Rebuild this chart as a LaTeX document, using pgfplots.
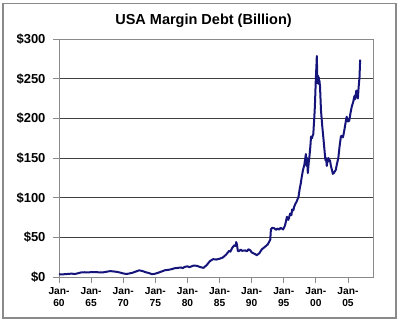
\documentclass[border=0pt]{standalone}
\usepackage{pgfplots}
\pgfplotsset{compat=1.18}
\usepackage{fontspec}
\setmainfont{Liberation Sans}
\definecolor{navyline}{HTML}{14147A}
\definecolor{framegray}{HTML}{8A8A8A}
\begin{document}
\begin{tikzpicture}[x=1pt,y=1pt]
\useasboundingbox (0,0) rectangle (400,322);
\draw[framegray, line width=1.4pt] (3,4) rectangle (396,318.5);
\node[font=\bfseries\fontsize{14.5}{16}\selectfont] at (203.5,301) {USA Margin Debt (Billion)};
\begin{axis}[
  at={(59pt,45pt)}, anchor=south west,
  scale only axis, width=314pt, height=238pt,
  xmin=1960, xmax=2008.9, ymin=0, ymax=300,
  /pgf/number format/assume math mode=true,
  axis line style={draw=framegray, line width=0.8pt},
  ytick={0,50,...,300},
  yticklabel={\$\pgfmathprintnumber{\tick}},
  yticklabel style={font=\bfseries\fontsize{13}{14}\selectfont, xshift=-4pt},
  xtick={1960,1965,...,2005},
  xticklabels={Jan-\\60,Jan-\\65,Jan-\\70,Jan-\\75,Jan-\\80,Jan-\\85,Jan-\\90,Jan-\\95,Jan-\\00,Jan-\\05},
  xticklabel style={font=\bfseries\fontsize{10.2}{11.6}\selectfont, align=center, yshift=-1pt},
  tick align=outside, major tick length=6pt,
  xtick pos=bottom, ytick pos=left,
  tick style={draw=framegray, line width=0.8pt},
  ymajorgrids, major grid style={draw=black!75, line width=0.6pt},
  clip=true,
]
\addplot[navyline, line width=2pt, line join=round] table {
1960.0 3.5
1960.5 3.3
1961.0 3.6
1961.5 4.0
1962.0 4.2
1962.5 3.8
1963.0 4.8
1963.5 5.9
1964.0 6.0
1964.5 5.8
1965.0 6.1
1965.5 6.2
1966.0 6.0
1966.5 5.8
1967.0 6.0
1967.5 6.8
1968.0 7.4
1968.5 7.0
1969.0 6.5
1969.5 5.6
1970.0 4.5
1970.5 3.8
1971.0 4.5
1971.5 5.5
1972.0 7.0
1972.5 8.4
1973.0 7.5
1973.5 6.0
1974.0 5.0
1974.5 3.5
1975.0 4.2
1975.5 5.5
1976.0 7.0
1976.5 8.5
1977.0 9.0
1977.5 9.8
1978.0 11.0
1978.5 11.5
1979.0 12.0
1979.3 11.2
1979.5 12.5
1980.0 13.5
1980.3 12.4
1980.5 13.0
1981.0 14.5
1981.5 14.0
1982.0 12.5
1982.5 11.5
1983.0 15.0
1983.5 20.0
1984.0 22.5
1984.5 22.0
1985.0 23.0
1985.5 24.5
1986.0 28.0
1986.3 31.0
1986.5 33.0
1986.7 32.0
1987.0 37.0
1987.3 40.0
1987.5 39.0
1987.6 44.0
1987.7 41.5
1987.85 33.0
1988.0 32.5
1988.3 34.5
1988.5 33.0
1989.0 33.5
1989.3 32.5
1989.5 35.0
1989.8 33.5
1990.0 31.0
1990.5 29.0
1990.8 27.5
1991.2 30.0
1991.6 35.0
1992.0 37.5
1992.5 41.0
1992.9 47.0
1993.0 60.0
1993.2 62.0
1993.5 61.5
1993.8 59.5
1994.0 61.0
1994.3 59.8
1994.5 62.0
1994.9 60.0
1995.2 65.0
1995.5 76.0
1995.7 72.0
1995.8 74.0
1996.0 80.0
1996.2 78.0
1996.3 85.0
1996.5 84.0
1996.6 88.0
1996.8 92.0
1997.0 95.0
1997.3 101.0
1997.5 112.0
1997.65 118.0
1997.8 126.0
1998.0 135.0
1998.2 141.0
1998.3 147.0
1998.45 155.0
1998.55 140.0
1998.65 150.0
1998.75 131.0
1998.9 145.0
1999.0 152.0
1999.15 165.0
1999.25 177.0
1999.4 175.0
1999.5 178.0
1999.6 180.0
1999.75 200.0
1999.85 215.0
2000.0 250.0
2000.1 268.0
2000.15 278.5
2000.2 260.0
2000.25 244.0
2000.3 254.0
2000.35 246.0
2000.45 252.0
2000.5 243.0
2000.55 248.0
2000.65 240.0
2000.8 210.0
2001.0 190.0
2001.2 173.0
2001.4 155.0
2001.5 147.0
2001.6 150.0
2001.7 140.0
2001.85 148.0
2001.95 150.0
2002.1 146.0
2002.2 147.0
2002.35 140.0
2002.5 135.0
2002.65 130.0
2002.8 131.0
2002.95 133.0
2003.1 135.0
2003.3 143.0
2003.5 150.0
2003.7 165.0
2003.9 177.0
2004.0 178.0
2004.2 176.0
2004.3 179.0
2004.5 188.0
2004.7 198.0
2004.8 202.0
2005.0 196.0
2005.2 197.0
2005.4 207.0
2005.6 215.0
2005.8 220.0
2006.0 228.0
2006.1 224.0
2006.3 235.0
2006.4 228.0
2006.55 225.0
2006.65 238.0
2006.8 252.0
2006.9 274.0
};
\end{axis}
\end{tikzpicture}
\end{document}
